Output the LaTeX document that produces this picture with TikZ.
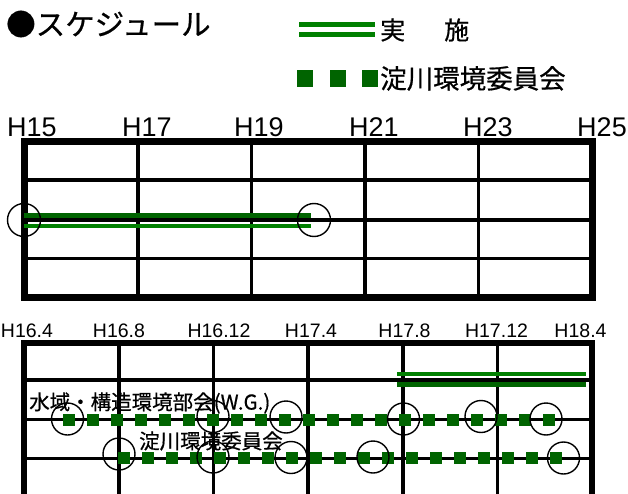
\documentclass[tikz,border=0pt]{standalone}
\usepackage{fontspec}
\setmainfont{Liberation Sans}
\newfontfamily\jp[FakeBold=0.6]{Noto Sans CJK JP}
\definecolor{gA}{RGB}{0,128,0}
\definecolor{gD}{RGB}{0,100,0}
\tikzset{
  border/.style={line width=7pt,line cap=rect},
  border2/.style={line width=6pt},
  inner/.style={line width=3.6pt},
  mark0/.style={draw=black,line width=1.4pt},
  dotrow/.style={draw=gD,line width=12pt,dash pattern=on 12pt off 12pt},
  yearlbl/.style={anchor=base,inner sep=0pt,font=\fontsize{27}{30}\selectfont},
  monlbl/.style={anchor=base,inner sep=0pt,font=\fontsize{19.5}{22}\selectfont},
  jplbl/.style={anchor=west,inner sep=0pt,font=\jp\fontsize{20.5}{24}\selectfont},
}
\begin{document}
\begin{tikzpicture}[x=1pt,y=-1pt]
\useasboundingbox (0,0) rectangle (628,494);
% title
\node[anchor=west,inner sep=0pt,font=\jp\fontsize{29.5}{32}\selectfont] (title) at (6,24) {●スケジュール};
% legend
\draw[gA,line width=5pt] (299,24.5) coordinate (l1a) -- (375,24.5) coordinate (l1b);
\draw[gA,line width=5pt] (299,34.5) coordinate (l2a) -- (375,34.5) coordinate (l2b);
\node[anchor=west,inner sep=0pt,font=\jp\fontsize{25}{28}\selectfont] (legA) at (380,30) {実\hspace{39pt}施};
\foreach \x in {297,329.5,362}{\fill[gD] (\x,70) rectangle ++(16,17);}
\node[anchor=west,inner sep=0pt,font=\jp\fontsize{26.5}{29}\selectfont] (legB) at (380,78.5) {淀川環境委員会};
% top year labels
\node[yearlbl] (y15) at (32,137) {H15};
\node[yearlbl] (y17) at (147,137) {H17};
\node[yearlbl] (y19) at (259,137) {H19};
\node[yearlbl] (y21) at (374,137) {H21};
\node[yearlbl] (y23) at (488,137) {H23};
\node[yearlbl] (y25) at (602,137) {H25};
% top grid
\foreach \x in {138,251.5,365,478.5}{\draw[inner] (\x,141.5) -- (\x,297);}
\foreach \y in {180,220,258.5}{\draw[inner] (24.5,\y) -- (592,\y);}
\draw[border] (24.5,141.5) rectangle (592,297);
\draw[gD,line width=5pt] (24,215.5) -- (311,215.5);
\draw[gA,line width=4pt] (24,226) -- (311,226);
\draw[mark0] (24,220) circle (16.5);
\draw[mark0] (314,220) circle (16.5);
% bottom month labels
\node[monlbl] (m1) at (27,337) {H16.4};
\node[monlbl] (m2) at (119,337) {H16.8};
\node[monlbl] (m3) at (219,337) {H16.12};
\node[monlbl] (m4) at (311,337) {H17.4};
\node[monlbl] (m5) at (404.5,337) {H17.8};
\node[monlbl] (m6) at (496.5,337) {H17.12};
\node[monlbl] (m7) at (580.5,337) {H18.4};
% bottom grid
\begin{scope}
\clip (0,0) rectangle (628,494);
\foreach \x in {118.7,213.3,308,402.7,497.3}{\draw[inner] (\x,343) -- (\x,500);}
\foreach \y in {380,419.5,458.5}{\draw[inner] (24,\y) -- (592,\y);}
\draw[border2] (24,500) -- (24,343) -- (592,343) -- (592,500);
\end{scope}
\draw[gA,line width=4.5pt] (397,374) -- (586,374);
\draw[gD,line width=5pt] (397,384.5) -- (586,384.5);
\draw[dotrow] (63,419.5) -- (555,419.5);
\draw[dotrow] (118,457.5) -- (562,457.5);
\node[jplbl] (wg) at (29,403) {水域・構造環境部会(W.G.)};
\node[jplbl] (yc) at (139,441) {淀川環境委員会};
\foreach \p in {(67.5,419),(213,416.5),(286,417),(403.5,419),(481,416.5),(546,419),
                (119,454),(213,457),(291,457.5),(373,457),(563.5,458)}{
  \draw[mark0] \p circle (16);
}
\end{tikzpicture}
\end{document}
